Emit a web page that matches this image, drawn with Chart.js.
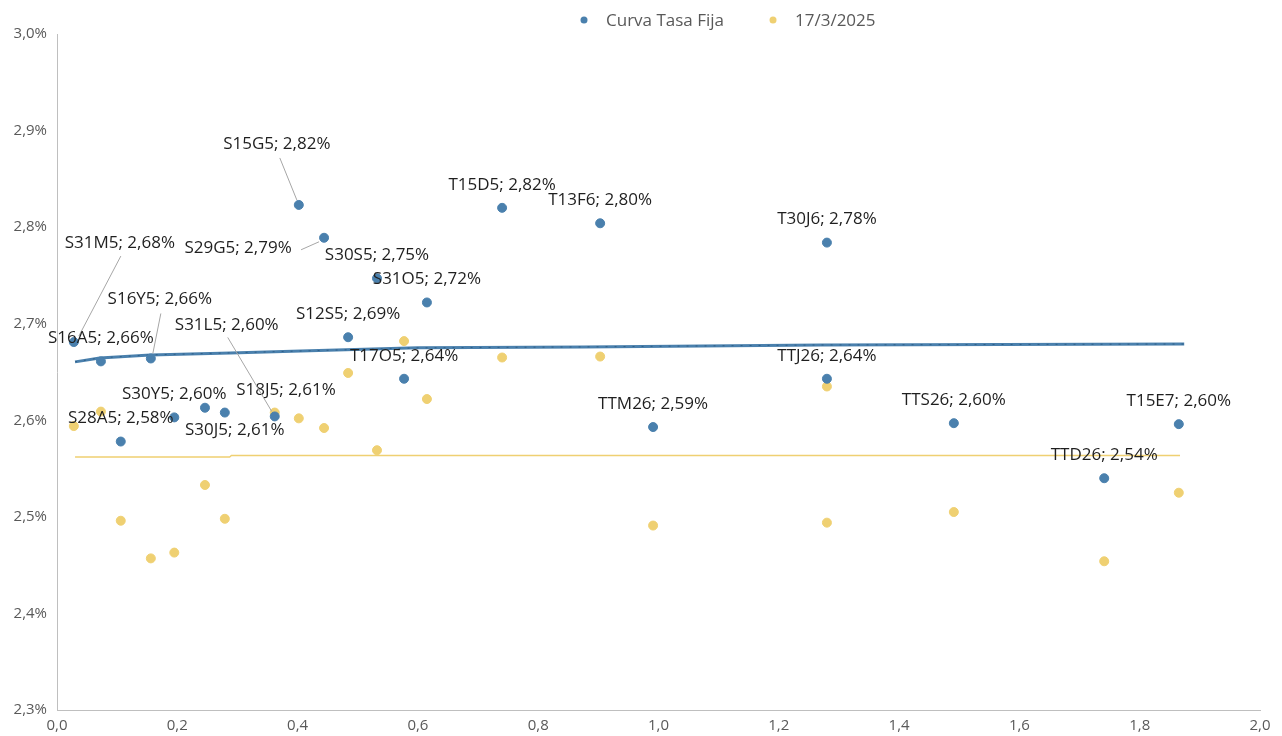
<!DOCTYPE html>
<html>
<head>
<meta charset="utf-8">
<script src="https://cdn.jsdelivr.net/npm/chart.js@4.4.1/dist/chart.umd.min.js"></script>
<style>
  html, body { margin: 0; padding: 0; background: #fff; }
</style>
</head>
<body>
<canvas id="curveChart" width="1282" height="736"></canvas>
<script>
// bonds ordered by years to maturity
var bonds = ["S31M5","S16A5","S28A5","S16Y5","S30Y5","S18J5","S30J5","S31L5","S15G5","S29G5","S12S5",
             "S30S5","T17O5","S31O5","T15D5","T13F6","TTM26","T30J6","TTJ26","TTS26","TTD26","T15E7"];
var tenors = [0.028,0.073,0.106,0.156,0.195,0.246,0.279,0.362,0.402,0.444,0.484,
              0.532,0.577,0.615,0.740,0.903,0.991,1.280,1.280,1.491,1.741,1.865];
var curvaTasaFija = [2.681,2.661,2.578,2.664,2.603,2.613,2.608,2.604,2.823,2.789,2.686,
                     2.747,2.643,2.722,2.820,2.804,2.593,2.784,2.643,2.597,2.540,2.596];
var rates17Mar = [2.594,2.609,2.496,2.457,2.463,2.533,2.498,2.608,2.602,2.592,2.649,
                  2.569,2.682,2.622,2.665,2.666,2.491,2.635,2.494,2.505,2.454,2.525];

// fitted curves
var fitX = [0.030,0.071,0.155,0.288,0.420,0.600,0.875,1.270,1.874];
var fitCurva = [2.6605,2.6646,2.6677,2.6698,2.672,2.675,2.676,2.678,2.679];
var fitPrevX = [0.030,0.287,0.290,1.867];
var fitPrev = [2.562,2.562,2.5635,2.5635];

var legendNames = ["Curva Tasa Fija", "17/3/2025"];
var blue = "#4a80ad";
var yellow = "#efd072";
var labelFont = "17px 'Open Sans'";

function pairs(xs, ys) {
    return xs.map(function (x, i) { return {x: x, y: ys[i]}; });
}

// label placement (pixels from the point), default is straight above
var labelPlacement = {
    S31M5: {dx: 46, dy: -99, leader: [47, -86, 5, -6]},
    S16Y5: {dx: 9, dy: -59, leader: [10, -45, 2, -5]},
    S31L5: {dx: -48, dy: -91, leader: [-47, -79, -3, -5]},
    S15G5: {dx: -22, dy: -61, leader: [-19, -47, -2, -5]},
    S29G5: {dx: -86, dy: 10, leader: [-23, 12, -5, 4]},
    S18J5: {dx: 81, dy: -18},
    S30J5: {dx: 10, dy: 18}
};

var labelPlugin = {
    id: "bondLabels",
    afterDatasetsDraw: function (chart) {
        var ctx = chart.ctx;
        var meta = chart.getDatasetMeta(0);
        ctx.save();
        ctx.font = labelFont;
        ctx.textAlign = "center";
        ctx.textBaseline = "middle";
        meta.data.forEach(function (pt, i) {
            var o = labelPlacement[bonds[i]] || {dx: 0, dy: -23};
            if (o.leader) {
                ctx.strokeStyle = "#a6a6a6";
                ctx.lineWidth = 1;
                ctx.beginPath();
                ctx.moveTo(pt.x + o.leader[0], pt.y + o.leader[1]);
                ctx.lineTo(pt.x + o.leader[2], pt.y + o.leader[3]);
                ctx.stroke();
            }
            ctx.fillStyle = "#1f1f1f";
            var txt = bonds[i] + "; " + curvaTasaFija[i].toFixed(2).replace(".", ",") + "%";
            ctx.fillText(txt, pt.x + o.dx, pt.y + o.dy);
        });

        // legend
        ctx.font = labelFont;
        ctx.textAlign = "left";
        var x = 580;
        [blue, yellow].forEach(function (c, i) {
            ctx.fillStyle = c;
            ctx.beginPath();
            ctx.arc(x + 4, 20, 3.5, 0, Math.PI * 2);
            ctx.fill();
            ctx.fillStyle = "#595959";
            ctx.fillText(legendNames[i], x + 26, 21);
            x += 26 + ctx.measureText(legendNames[i]).width + 45;
        });
        ctx.restore();
    }
};

var config = {
    type: "scatter",
    data: {
        datasets: [
            {
                label: legendNames[0],
                data: pairs(tenors, curvaTasaFija),
                backgroundColor: blue,
                borderColor: blue,
                pointRadius: 4.5,
                pointHoverRadius: 4.5
            },
            {
                label: legendNames[1],
                data: pairs(tenors, rates17Mar),
                backgroundColor: yellow,
                borderColor: yellow,
                pointRadius: 4.5,
                pointHoverRadius: 4.5
            },
            {
                type: "line",
                data: pairs(fitX, fitCurva),
                borderColor: "#2f5f88",
                borderWidth: 1,
                borderDash: [2, 7],
                pointRadius: 0,
                fill: false
            },
            {
                type: "line",
                data: pairs(fitX, fitCurva),
                borderColor: blue,
                borderWidth: 3,
                pointRadius: 0,
                fill: false
            },
            {
                type: "line",
                data: pairs(fitPrevX, fitPrev),
                borderColor: yellow,
                borderWidth: 1.5,
                pointRadius: 0,
                fill: false
            }
        ]
    },
    options: {
        responsive: false,
        animation: false,
        layout: {padding: {top: 34, right: 22, bottom: 0, left: 0}},
        plugins: {legend: {display: false}, tooltip: {enabled: false}},
        scales: {
            x: {
                type: "linear",
                min: 0,
                max: 2,
                grid: {display: false, drawTicks: false},
                border: {display: true, color: "#bfbfbf", width: 1},
                ticks: {
                    stepSize: 0.2,
                    padding: 7,
                    color: "#595959",
                    font: {family: "Open Sans", size: 15},
                    callback: function (v) { return v.toFixed(1).replace(".", ","); }
                },
                afterFit: function (s) { s.height = 26; }
            },
            y: {
                min: 2.3,
                max: 3.0,
                grid: {display: false, drawTicks: false},
                border: {display: true, color: "#bfbfbf", width: 1},
                ticks: {
                    stepSize: 0.1,
                    padding: 10,
                    color: "#595959",
                    font: {family: "Open Sans", size: 15},
                    callback: function (v) { return v.toFixed(1).replace(".", ",") + "%"; }
                },
                afterFit: function (s) { s.width = 57; }
            }
        }
    },
    plugins: [labelPlugin]
};

var curveChart = new Chart(document.getElementById("curveChart"), config);
</script>
</body>
</html>
